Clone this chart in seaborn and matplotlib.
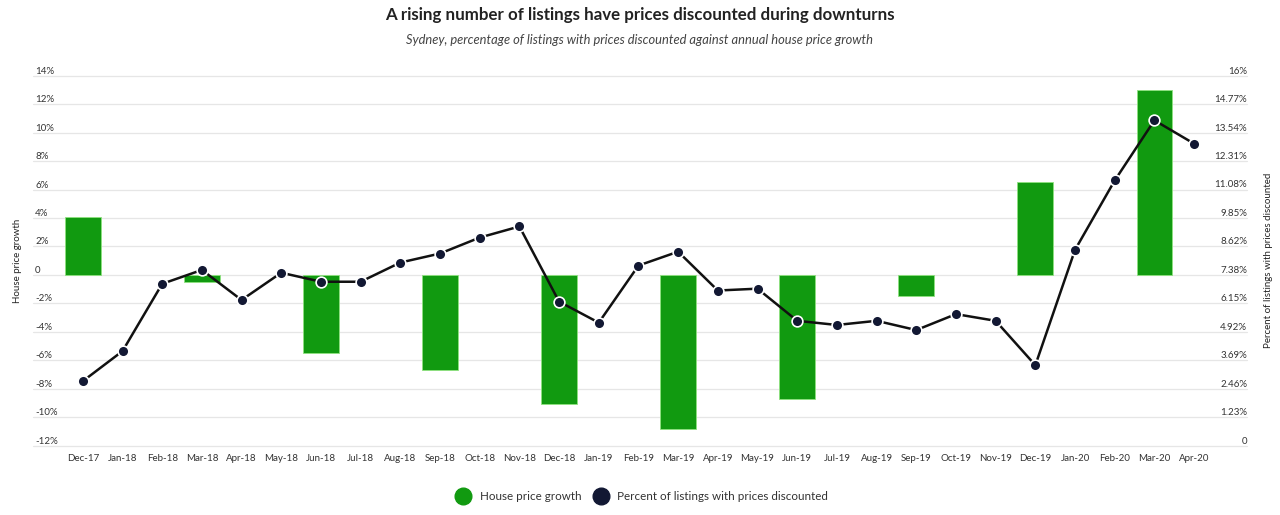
import numpy as np
import pandas as pd
import matplotlib
matplotlib.use("Agg")
import matplotlib.pyplot as plt
from matplotlib.lines import Line2D
import seaborn as sns

sns.set_theme(style="white")
plt.rcParams['font.family'] = ['Lato', 'DejaVu Sans']

months = ["Dec-17", "Jan-18", "Feb-18", "Mar-18", "Apr-18", "May-18", "Jun-18",
          "Jul-18", "Aug-18", "Sep-18", "Oct-18", "Nov-18", "Dec-18", "Jan-19",
          "Feb-19", "Mar-19", "Apr-19", "May-19", "Jun-19", "Jul-19", "Aug-19",
          "Sep-19", "Oct-19", "Nov-19", "Dec-19", "Jan-20", "Feb-20", "Mar-20",
          "Apr-20"]

# annual house price growth (%), quarterly only
house_growth = [4.1, None, None, -0.5, None, None, -5.5, None, None, -6.7,
                None, None, -9.1, None, None, -10.8, None, None, -8.7, None,
                None, -1.5, None, None, 6.5, None, None, 13.0, None]

# percent of listings with prices discounted
discounted = [2.79, 4.09, 7.0, 7.6, 6.3, 7.48, 7.09, 7.09, 7.92, 8.31, 9.0,
              9.48, 6.23, 5.32, 7.79, 8.39, 6.71, 6.79, 5.4, 5.22, 5.4, 5.0,
              5.69, 5.4, 3.48, 8.47, 11.47, 14.07, 13.06]

left_ticks = list(range(-12, 15, 2))
right_ticks = [0, 1.23, 2.46, 3.69, 4.92, 6.15, 7.38, 8.62, 9.85, 11.08,
               12.31, 13.54, 14.77, 16]
right_labels = ["0"] + [f"{v:g}%" for v in right_ticks[1:]]

GREEN = "#119a10"
NAVY = "#121833"
TXT = "#333333"

df = pd.DataFrame({"month": months,
                   "growth": pd.to_numeric(pd.Series(house_growth), errors="coerce"),
                   "discounted": discounted})
df["pos"] = np.arange(len(df))

fig = plt.figure(figsize=(12.8, 5.15), dpi=100)
ax = fig.add_axes([0.0492, 0.1346, 0.8992, 0.7184])
ax2 = ax.twinx()

# gridlines spanning under the tick labels
for t in left_ticks:
    ax.axhline(t, xmin=-0.026, xmax=1.0287, color="#e6e6e6", lw=0.9,
               clip_on=False, zorder=0)

sns.barplot(data=df, x="month", y="growth", order=months, color=GREEN,
            width=0.9, errorbar=None, ax=ax, saturation=1,
            edgecolor="#8fe27f", linewidth=0.6, zorder=2)

sns.lineplot(data=df, x="pos", y="discounted", ax=ax2, color="#111111",
             lw=1.8, sort=False, zorder=3)
ax2.scatter(df["pos"], df["discounted"], s=60, color=NAVY,
            edgecolor="white", linewidth=1.2, zorder=4)

ax.set_xlim(-0.5, len(months) - 0.5)
ax.set_ylim(-12, 14)
ax2.set_ylim(0, 16)

ax.set_yticks(left_ticks)
ax.set_yticklabels(["0" if t == 0 else f"{t}%" for t in left_ticks])
ax2.set_yticks(right_ticks)
ax2.set_yticklabels(right_labels)

for a in (ax, ax2):
    for s in a.spines.values():
        s.set_visible(False)
    a.grid(False)

ax.tick_params(axis="y", length=0, pad=20, labelsize=7, colors=TXT)
for lbl in ax.get_yticklabels():
    lbl.set_horizontalalignment("left")
    lbl.set_verticalalignment("bottom")
ax2.tick_params(axis="y", length=0, pad=24, labelsize=7, colors=TXT)
for lbl in ax2.get_yticklabels():
    lbl.set_horizontalalignment("right")
    lbl.set_verticalalignment("bottom")
ax.tick_params(axis="x", length=0, pad=6, labelsize=7, colors=TXT)

ax.set_xlabel("")
ax.set_ylabel("House price growth", fontsize=7, color="#222222")
ax.yaxis.set_label_coords(-0.0356, 0.5)
ax2.set_ylabel("Percent of listings with prices discounted", fontsize=7,
               color="#222222", labelpad=12)

fig.text(0.5, 0.97, "A rising number of listings have prices discounted during downturns",
         ha="center", va="center", fontsize=12.2, fontweight="bold", color="#222222")
fig.text(0.5, 0.922, "Sydney, percentage of listings with prices discounted against annual house price growth",
         ha="center", va="center", fontsize=9.3, style="italic", color="#444444")

handles = [Line2D([], [], ls="", marker="o", ms=12, color=GREEN),
           Line2D([], [], ls="", marker="o", ms=12, color=NAVY)]
fig.legend(handles, ["House price growth", "Percent of listings with prices discounted"],
           loc="center", bbox_to_anchor=(0.5, 0.035), ncol=2, frameon=False,
           fontsize=8.4, labelcolor=TXT, handletextpad=0.45, columnspacing=0.6)

fig.savefig("out.png", dpi=100)
